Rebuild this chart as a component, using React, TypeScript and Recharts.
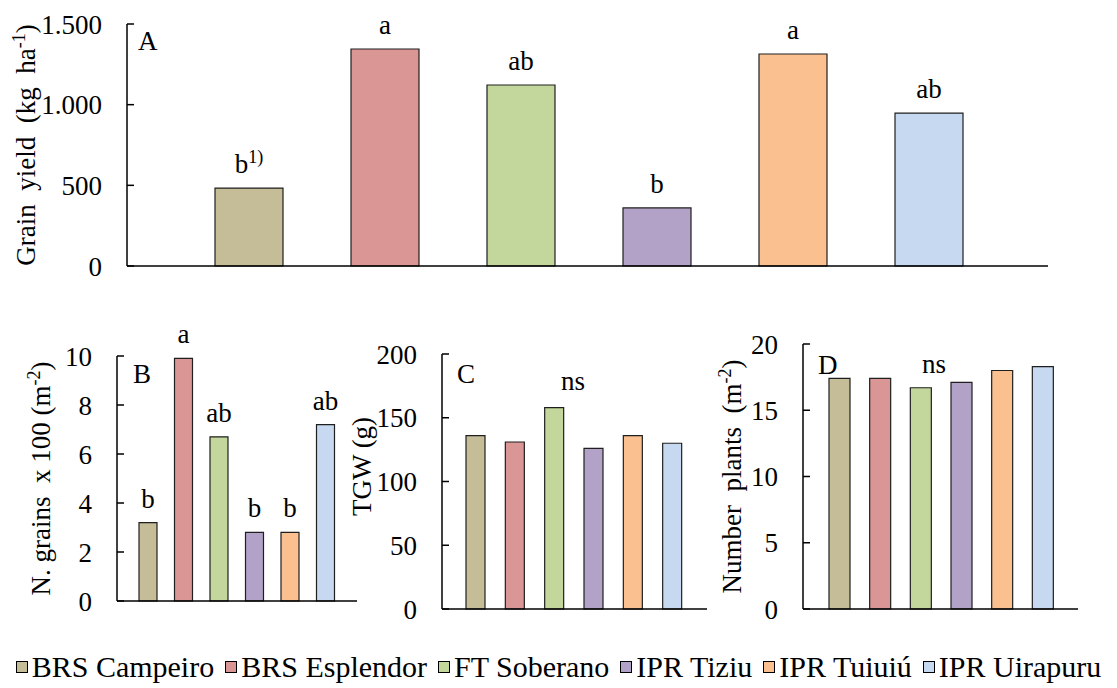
import React from "react";
import { Bar, BarChart, Cell, LabelList, XAxis, YAxis } from "recharts";

const cultivars = ["BRS Campeiro", "BRS Esplendor", "FT Soberano", "IPR Tiziu", "IPR Tuiuiú", "IPR Uirapuru"];
const barColors = ["#C4BD97", "#D99694", "#C3D69B", "#B3A2C7", "#FAC090", "#C6D9F1"];

const yieldKgHa = [483, 1345, 1122, 360, 1314, 948];
const yieldLetters = ["b^1)", "a", "ab", "b", "a", "ab"];
const yieldTicks = [0, 500, 1000, 1500];

const grainsX100 = [3.2, 9.9, 6.7, 2.8, 2.8, 7.2];
const grainsLetters = ["b", "a", "ab", "b", "b", "ab"];
const grainsTicks = [0, 2, 4, 6, 8, 10];

const tgwGrams = [136, 131, 158, 126, 136, 130];
const tgwTicks = [0, 50, 100, 150, 200];

const plantsM2 = [17.4, 17.4, 16.7, 17.1, 18.0, 18.3];
const plantsTicks = [0, 5, 10, 15, 20];

const FONT = "Liberation Serif, Tinos, Times New Roman, DejaVu Serif, serif";
const FS = 27;

const thousands = (v: number) => String(v).replace(/\B(?=(\d{3})+(?!\d))/g, ".");

function InwardTick(props: any) {
  const { x, y, payload, fmt } = props;
  return (
    <g>
      <line x1={x + 25} x2={x + 32} y1={y} y2={y} stroke="#000" strokeWidth={1.5} />
      <text x={x} y={y} dy="0.355em" textAnchor="end" style={{ fontFamily: FONT, fontSize: FS }} fill="#000">
        {fmt ? fmt(payload.value) : payload.value}
      </text>
    </g>
  );
}

function letterLabel(props: any) {
  const { x, y, width, value } = props;
  if (!value) return null;
  const [main, sup] = String(value).split("^");
  return (
    <text x={x + width / 2} y={y - 15} textAnchor="middle" style={{ fontFamily: FONT, fontSize: FS }} fill="#000">
      {main}
      {sup ? (
        <tspan dy={-10} style={{ fontSize: 18 }}>
          {sup}
        </tspan>
      ) : null}
    </text>
  );
}

// rotated axis title; shift moves it along the axis (negative = up)
function yTitle(cx: number, main: string, sup: string, tail: string, shift = 0) {
  return (props: any) => {
    const vb = props.viewBox;
    const cy = vb.y + vb.height / 2 + shift;
    return (
      <text
        x={cx}
        y={cy}
        dy="0.35em"
        transform={`rotate(-90 ${cx} ${cy})`}
        textAnchor="middle"
        fill="#000"
        style={{ whiteSpace: "pre", fontFamily: FONT, fontSize: FS }}
      >
        {main}
        {sup ? (
          <tspan dy={-10} style={{ fontSize: 18 }}>
            {sup}
          </tspan>
        ) : null}
        {tail ? <tspan dy={sup ? 10 : 0}>{tail}</tspan> : null}
      </text>
    );
  };
}

function Panel(p: any) {
  const data = cultivars.map((name, i) => ({ name, value: p.values[i], letter: p.letters ? p.letters[i] : "" }));
  return (
    <div style={{ position: "absolute", left: p.left, top: p.top }}>
      <BarChart width={p.width} height={p.height} data={data} margin={p.margin}>
        <XAxis
          dataKey="name"
          tick={false}
          tickLine={false}
          height={2}
          axisLine={{ stroke: "#000", strokeWidth: 1.5 }}
          padding={p.padding}
        />
        <YAxis
          width={p.yWidth}
          domain={[p.ticks[0], p.ticks[p.ticks.length - 1]]}
          ticks={p.ticks}
          interval={0}
          tickSize={0}
          tickMargin={25}
          tickLine={false}
          tick={<InwardTick fmt={p.fmt} />}
          axisLine={{ stroke: "#000", strokeWidth: 1.5 }}
          label={{ content: p.title }}
        />
        <Bar dataKey="value" barSize={p.barSize} stroke="#1f1f1f" strokeWidth={1.2} isAnimationActive={false}>
          {data.map((d, i) => (
            <Cell key={d.name} fill={barColors[i]} />
          ))}
          {p.letters ? <LabelList dataKey="letter" content={letterLabel} /> : null}
        </Bar>
      </BarChart>
    </div>
  );
}

const overlayText = (x: number, y: number, s: string, anchor = "start") => (
  <text x={x} y={y} textAnchor={anchor as any} style={{ fontFamily: FONT, fontSize: FS }} fill="#000">
    {s}
  </text>
);

export default function App() {
  return (
    <div style={{ position: "absolute", left: 0, top: 0, width: 1117, height: 688, background: "#fff", fontFamily: FONT }}>
      <Panel
        left={0}
        top={0}
        width={1117}
        height={300}
        margin={{ top: 24, right: 69, bottom: 32, left: 0 }}
        yWidth={127}
        padding={{ left: 54, right: 51 }}
        barSize={68}
        values={yieldKgHa}
        letters={yieldLetters}
        ticks={yieldTicks}
        fmt={thousands}
        title={yTitle(26, "Grain  yield  (kg  ha", "-1", ")")}
      />
      <Panel
        left={0}
        top={320}
        width={380}
        height={310}
        margin={{ top: 36, right: 23, bottom: 27, left: 0 }}
        yWidth={117}
        padding={{ left: 13, right: 14 }}
        barSize={18}
        values={grainsX100}
        letters={grainsLetters}
        ticks={grainsTicks}
        title={yTitle(41, "N. grains  x 100 (m", "-2", ")")}
      />
      <Panel
        left={340}
        top={320}
        width={400}
        height={320}
        margin={{ top: 34, right: 33, bottom: 29, left: 0 }}
        yWidth={102}
        padding={{ left: 14, right: 15 }}
        barSize={19}
        values={tgwGrams}
        ticks={tgwTicks}
        title={yTitle(22, "TGW (g)", "", "", -15)}
      />
      <Panel
        left={700}
        top={320}
        width={417}
        height={320}
        margin={{ top: 24, right: 39, bottom: 29, left: 0 }}
        yWidth={103}
        padding={{ left: 16, right: 15 }}
        barSize={21}
        values={plantsM2}
        ticks={plantsTicks}
        title={yTitle(32, "Number  plants  (m", "-2", ")")}
      />
      <svg width={1117} height={688} style={{ position: "absolute", left: 0, top: 0, pointerEvents: "none" }}>
        {overlayText(138, 50, "A")}
        {overlayText(133, 383, "B")}
        {overlayText(457, 383, "C")}
        {overlayText(818, 374, "D")}
        {overlayText(573, 390, "ns", "middle")}
        {overlayText(934, 373, "ns", "middle")}
      </svg>
      <div
        style={{
          position: "absolute",
          left: 0,
          top: 650,
          width: 1117,
          display: "flex",
          justifyContent: "center",
          alignItems: "center",
          fontFamily: FONT,
          fontSize: 30,
          lineHeight: "34px",
          color: "#000",
          whiteSpace: "nowrap",
        }}
      >
        {cultivars.map((name, i) => (
          <div key={name} style={{ display: "flex", alignItems: "center", marginRight: i < cultivars.length - 1 ? 11 : 0 }}>
            <span
              style={{
                width: 10,
                height: 10,
                background: barColors[i],
                border: "1.5px solid #000",
                marginRight: 4,
                display: "inline-block",
              }}
            />
            <span>{name}</span>
          </div>
        ))}
      </div>
    </div>
  );
}
